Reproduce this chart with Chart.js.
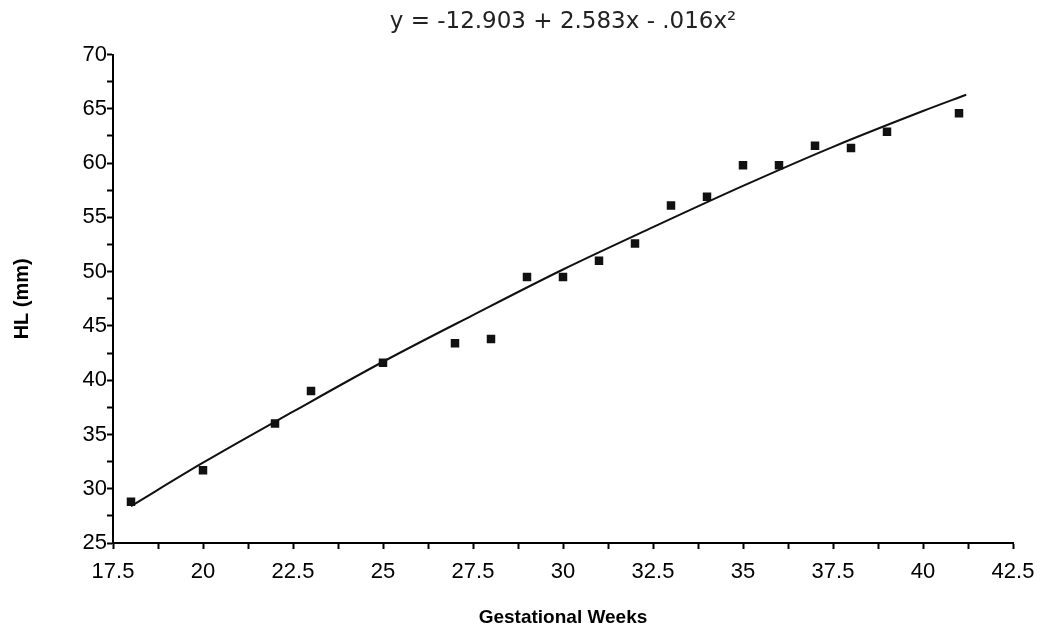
<!DOCTYPE html>
<html>
<head>
<meta charset="utf-8">
<script src="https://cdn.jsdelivr.net/npm/chart.js@4/dist/chart.umd.min.js"></script>
<style>
  body { margin: 0; background: #fff; }
  #wrap { width: 1041px; height: 634px; }
</style>
</head>
<body>
<div id="wrap"><canvas id="hlChart" width="1041" height="634"></canvas></div>
<script>
// mesures HL par semaine de gestation
var weeks = [18, 20, 22, 23, 25, 27, 28, 29, 30, 31, 32, 33, 34, 35, 36, 37, 38, 39, 41];
var hlValues = [28.8, 31.7, 36.0, 39.0, 41.6, 43.4, 43.8, 49.5, 49.5, 51.0, 52.6, 56.1, 56.9, 59.8, 59.8, 61.6, 61.4, 62.9, 64.6];

// courbe d'ajustement
var fitWeeks = [18, 20, 22.5, 25, 27.5, 30, 32.5, 35, 37.5, 40, 41.2];
var fitValues = [28.4, 32.4, 37.1, 41.7, 46.0, 50.2, 54.1, 57.9, 61.5, 64.8, 66.3];

var titleText = "y = -12.903 + 2.583x - .016x\u00B2";
var xTitle = "Gestational Weeks";
var yTitle = "HL (mm)";

document.addEventListener("DOMContentLoaded", function () {
  var ctx = document.getElementById("hlChart").getContext("2d");
  var pts = weeks.map(function (w, i) { return { x: w, y: hlValues[i] }; });
  var fit = fitWeeks.map(function (w, i) { return { x: w, y: fitValues[i] }; });

  new Chart(ctx, {
    type: 'scatter',
    data: {
      datasets: [{
        label: 'HL',
        data: pts,
        pointStyle: 'rect',
        pointRadius: 6,
        backgroundColor: '#111',
        borderColor: '#111',
        borderWidth: 0
      }, {
        label: 'fit',
        type: 'line',
        data: fit,
        borderColor: '#111',
        borderWidth: 2,
        pointRadius: 0,
        cubicInterpolationMode: 'monotone',
        fill: false
      }]
    },
    options: {
      responsive: false,
      animation: false,
      layout: { padding: { top: 0, right: 0, bottom: 0, left: 0 } },
      plugins: {
        legend: { display: false },
        tooltip: { enabled: false },
        title: {
          display: true,
          fullSize: false,
          text: titleText,
          color: '#222',
          font: { family: 'DejaVu Sans', size: 23, weight: 'normal' },
          padding: { top: 8, bottom: 19 }
        }
      },
      scales: {
        x: {
          type: 'linear',
          min: 17.5,
          max: 42.5,
          afterFit: function (s) { s.height = 91; s.paddingRight = 28; },
          border: { display: true, color: '#000', width: 2 },
          grid: { drawOnChartArea: false, drawTicks: true, tickLength: 6, tickColor: '#000', tickWidth: 2 },
          ticks: {
            stepSize: 1.25,
            autoSkip: false,
            maxRotation: 0,
            padding: 10,
            color: '#000',
            font: { family: 'Liberation Sans', size: 22 },
            callback: function (v) {
              return Math.abs(v / 2.5 - Math.round(v / 2.5)) < 1e-6 ? String(v) : '';
            }
          },
          title: {
            display: true,
            text: xTitle,
            color: '#000',
            font: { family: 'Liberation Sans', size: 19, weight: 'bold' },
            padding: { top: 4, bottom: 5 }
          }
        },
        y: {
          min: 25,
          max: 70,
          afterFit: function (s) { s.width = 113; },
          border: { display: true, color: '#000', width: 2 },
          grid: { drawOnChartArea: false, drawTicks: true, tickLength: 6, tickColor: '#000', tickWidth: 2 },
          ticks: {
            stepSize: 2.5,
            autoSkip: false,
            padding: 0,
            color: '#000',
            font: { family: 'Liberation Sans', size: 22 },
            callback: function (v) { return v % 5 === 0 ? String(v) : ''; }
          },
          title: {
            display: true,
            text: yTitle,
            color: '#000',
            font: { family: 'Liberation Sans', size: 20, weight: 'bold' },
            padding: { top: 10, bottom: 0 }
          }
        }
      }
    }
  });
});
</script>
</body>
</html>
